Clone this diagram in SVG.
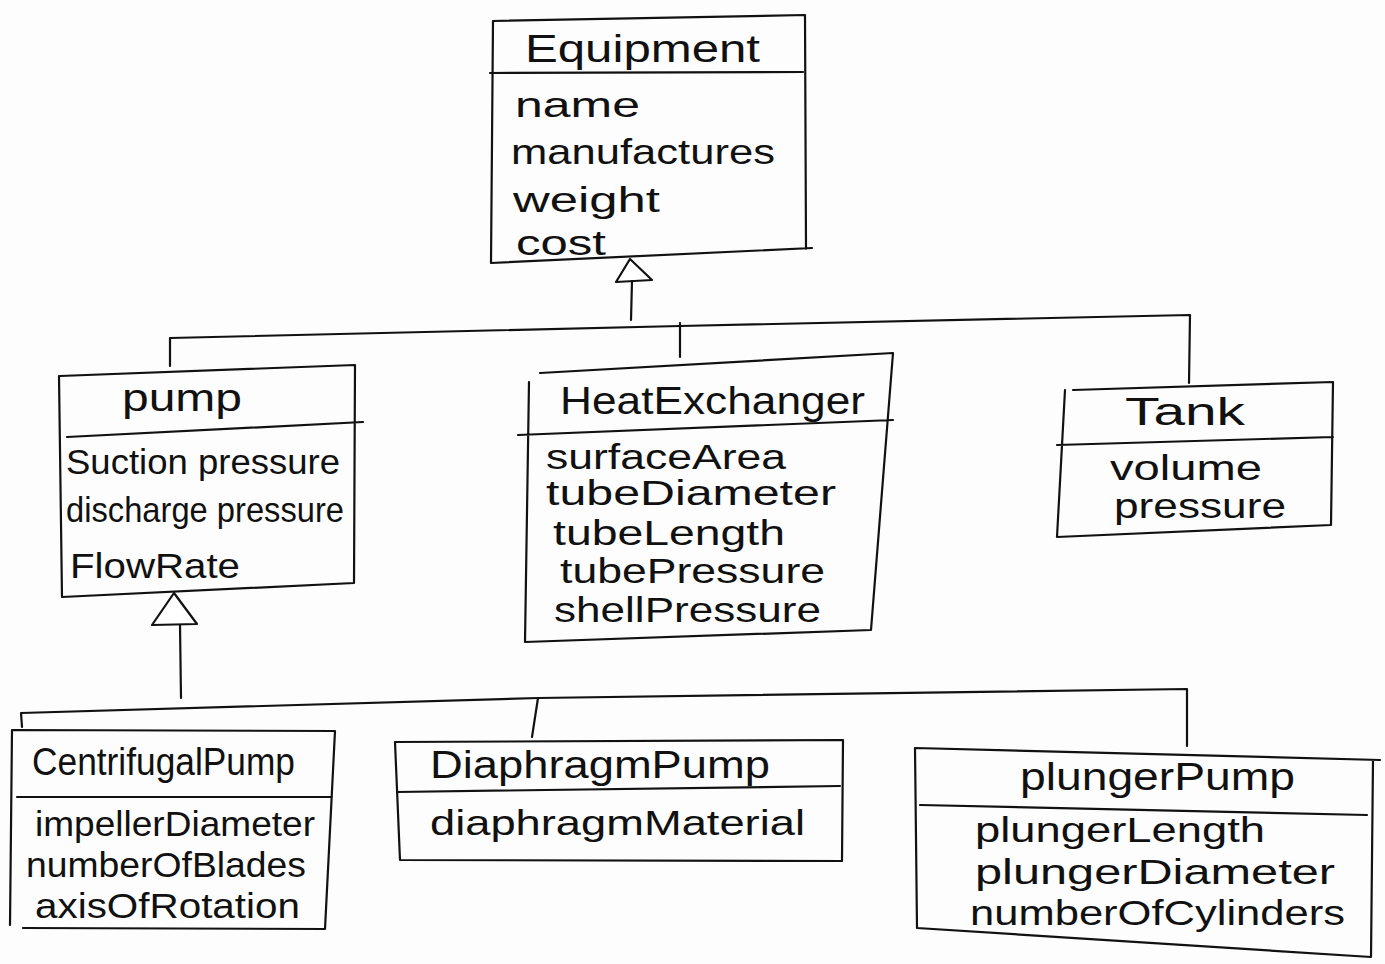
<svg xmlns="http://www.w3.org/2000/svg" width="1385" height="964" viewBox="0 0 1385 964">
  <style>
    .box { fill: none; stroke: #111; stroke-width: 2.2; stroke-linejoin: round; stroke-linecap: round; }
    .wire { fill: none; stroke: #111; stroke-width: 2.2; stroke-linecap: round; stroke-linejoin: round; }
    .head { fill: #fff; stroke: #111; stroke-width: 2.2; stroke-linejoin: round; }
    .title { font-family: "Liberation Sans", "DejaVu Sans", sans-serif; font-size: 38px; fill: #111; }
    .attr { font-family: "Liberation Sans", "DejaVu Sans", sans-serif; font-size: 35px; fill: #111; }
  </style>
  <rect width="1385" height="964" fill="#fdfdfd"/>

  <!-- generalization connectors -->
  <g id="connectors">
    <!-- Equipment hierarchy -->
    <polygon class="head" points="630,259 616,282 652,280"/>
    <path class="wire" d="M632,281 L631,320"/>
    <path class="wire" d="M170,366 L170,338 L680,326 L1190,315 L1189,383"/>
    <path class="wire" d="M680,323 L680,357"/>
    <!-- Pump hierarchy -->
    <polygon class="head" points="174,593 152,625 197,624"/>
    <path class="wire" d="M180,625 L181,698"/>
    <path class="wire" d="M22,727 L21,713 L538,698 L1187,689 L1187,746"/>
    <path class="wire" d="M538,698 L532,737"/>
  </g>

  <g id="equipment">
    <path class="box" d="M493,21 L805,15 L806,249 M812,248 L491,263 L493,21 M490,73 L803,72"/>
    <text class="title" x="525" y="62" textLength="235" lengthAdjust="spacingAndGlyphs">Equipment</text>
    <text class="attr" x="515" y="117" textLength="125" lengthAdjust="spacingAndGlyphs">name</text>
    <text class="attr" x="511" y="164" textLength="264" lengthAdjust="spacingAndGlyphs">manufactures</text>
    <text class="attr" x="513" y="212" textLength="147" lengthAdjust="spacingAndGlyphs">weight</text>
    <text class="attr" x="516" y="255" textLength="90" lengthAdjust="spacingAndGlyphs">cost</text>
  </g>

  <g id="pump">
    <path class="box" d="M60,376 L355,365 L354,583 L62,597 L59,376 M67,437 L363,422"/>
    <text class="title" x="122" y="411" textLength="120" lengthAdjust="spacingAndGlyphs">pump</text>
    <text class="attr" x="66" y="474" textLength="274" lengthAdjust="spacingAndGlyphs">Suction pressure</text>
    <text class="attr" x="66" y="522" textLength="278" lengthAdjust="spacingAndGlyphs">discharge pressure</text>
    <text class="attr" x="70" y="578" textLength="170" lengthAdjust="spacingAndGlyphs">FlowRate</text>
  </g>

  <g id="heat-exchanger">
    <path class="box" d="M540,373 L893,353 L871,630 L525,642 L529,382 M518,435 L893,420"/>
    <text class="title" x="560" y="414" textLength="305" lengthAdjust="spacingAndGlyphs">HeatExchanger</text>
    <text class="attr" x="546" y="469" textLength="240" lengthAdjust="spacingAndGlyphs">surfaceArea</text>
    <text class="attr" x="546" y="505" textLength="290" lengthAdjust="spacingAndGlyphs">tubeDiameter</text>
    <text class="attr" x="553" y="545" textLength="232" lengthAdjust="spacingAndGlyphs">tubeLength</text>
    <text class="attr" x="560" y="583" textLength="265" lengthAdjust="spacingAndGlyphs">tubePressure</text>
    <text class="attr" x="554" y="622" textLength="267" lengthAdjust="spacingAndGlyphs">shellPressure</text>
  </g>

  <g id="tank">
    <path class="box" d="M1073,390 L1333,382 L1331,525 L1057,537 L1065,390 M1057,445 L1333,437"/>
    <text class="title" x="1125" y="425" textLength="120" lengthAdjust="spacingAndGlyphs">Tank</text>
    <text class="attr" x="1110" y="480" textLength="152" lengthAdjust="spacingAndGlyphs">volume</text>
    <text class="attr" x="1114" y="518" textLength="172" lengthAdjust="spacingAndGlyphs">pressure</text>
  </g>

  <g id="centrifugal-pump">
    <path class="box" d="M13,730 L335,731 L325,929 L23,928 M12,730 L10,925 M17,797 L332,797"/>
    <text class="title" x="32" y="775" textLength="263" lengthAdjust="spacingAndGlyphs">CentrifugalPump</text>
    <text class="attr" x="35" y="836" textLength="280" lengthAdjust="spacingAndGlyphs">impellerDiameter</text>
    <text class="attr" x="26" y="877" textLength="280" lengthAdjust="spacingAndGlyphs">numberOfBlades</text>
    <text class="attr" x="35" y="918" textLength="265" lengthAdjust="spacingAndGlyphs">axisOfRotation</text>
  </g>

  <g id="diaphragm-pump">
    <path class="box" d="M395,742 L843,740 L842,861 L400,860 L395,742 M397,792 L840,786"/>
    <text class="title" x="430" y="778" textLength="340" lengthAdjust="spacingAndGlyphs">DiaphragmPump</text>
    <text class="attr" x="430" y="835" textLength="375" lengthAdjust="spacingAndGlyphs">diaphragmMaterial</text>
  </g>

  <g id="plunger-pump">
    <path class="box" d="M915,748 L1380,760 M1373,760 L1371,957 L917,928 L915,748 M920,805 L1367,815"/>
    <text class="title" x="1020" y="790" textLength="275" lengthAdjust="spacingAndGlyphs">plungerPump</text>
    <text class="attr" x="975" y="842" textLength="290" lengthAdjust="spacingAndGlyphs">plungerLength</text>
    <text class="attr" x="975" y="884" textLength="360" lengthAdjust="spacingAndGlyphs">plungerDiameter</text>
    <text class="attr" x="970" y="925" textLength="375" lengthAdjust="spacingAndGlyphs">numberOfCylinders</text>
  </g>
</svg>
